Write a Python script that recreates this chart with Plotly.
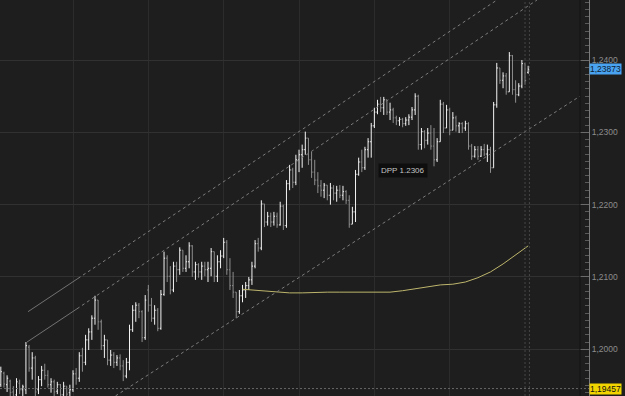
import plotly.graph_objects as go

# ---- bar data (EUR/USD style hourly bars) ----
bar_open = [1.1951,1.1967,1.1951,1.1956,1.1941,1.1937,1.1953,1.1944,1.1944,1.2003,
1.1974,1.1988,1.1944,1.1958,1.1971,1.1964,1.1951,1.1955,1.1942,1.1951,
1.1937,1.1949,1.1940,1.1944,1.1966,1.1960,1.1991,1.1982,1.2013,1.2024,
1.2043,1.2068,1.2038,1.2005,1.2013,1.1985,1.1992,1.1982,1.1988,1.1977,
1.1963,1.1982,1.2027,1.2054,1.2061,1.2052,1.2016,1.2082,1.2061,1.2043,
1.2054,1.2029,1.2076,1.2126,1.2101,1.2082,1.2115,1.2110,1.2137,1.2112,
1.2121,1.2143,1.2107,1.2117,1.2107,1.2115,1.2110,1.2112,1.2135,1.2101,
1.2121,1.2129,1.2148,1.2110,1.2088,1.2079,1.2052,1.2074,1.2082,1.2088,
1.2096,1.2115,1.2146,1.2140,1.2201,1.2176,1.2184,1.2176,1.2184,1.2172,
1.2198,1.2171,1.2229,1.2248,1.2231,1.2262,1.2269,1.2276,1.2292,1.2262,
1.2245,1.2234,1.2226,1.2220,1.2227,1.2213,1.2223,1.2216,1.2220,1.2213,
1.2218,1.2206,1.2173,1.2190,1.2242,1.2259,1.2251,1.2276,1.2287,1.2309,
1.2328,1.2339,1.2334,1.2345,1.2328,1.2331,1.2320,1.2316,1.2318,1.2312,
1.2317,1.2321,1.2331,1.2350,1.2283,1.2301,1.2289,1.2299,1.2281,1.2262,
1.2287,1.2339,1.2306,1.2331,1.2303,1.2320,1.2309,1.2312,1.2306,1.2312,
1.2281,1.2267,1.2276,1.2267,1.2276,1.2270,1.2276,1.2251,1.2338,1.2389,
1.2372,1.2378,1.2356,1.2406,1.2359,1.2352,1.2364,1.2395,1.2383]

bar_high = [1.1976,1.1969,1.1964,1.1958,1.1949,1.1960,1.1958,1.1951,1.2010,1.2006,
1.1996,1.1991,1.1963,1.1977,1.1980,1.1971,1.1960,1.1958,1.1955,1.1952,
1.1955,1.1949,1.1951,1.1971,1.1974,1.1996,1.2002,1.2020,1.2029,1.2047,
1.2074,1.2068,1.2041,1.2020,1.2013,1.1999,1.1996,1.1992,1.1993,1.1985,
1.1988,1.2034,1.2061,1.2065,1.2064,1.2054,1.2075,1.2089,1.2071,1.2061,
1.2057,1.2082,1.2135,1.2130,1.2115,1.2121,1.2121,1.2141,1.2137,1.2130,
1.2148,1.2144,1.2121,1.2119,1.2121,1.2121,1.2121,1.2140,1.2135,1.2130,
1.2137,1.2154,1.2151,1.2126,1.2107,1.2079,1.2082,1.2089,1.2093,1.2100,
1.2121,1.2151,1.2154,1.2206,1.2201,1.2190,1.2189,1.2190,1.2189,1.2204,
1.2200,1.2234,1.2255,1.2251,1.2269,1.2276,1.2283,1.2301,1.2292,1.2273,
1.2262,1.2245,1.2234,1.2230,1.2227,1.2230,1.2227,1.2226,1.2227,1.2226,
1.2220,1.2213,1.2197,1.2248,1.2265,1.2276,1.2280,1.2292,1.2313,1.2334,
1.2345,1.2349,1.2349,1.2345,1.2341,1.2334,1.2323,1.2321,1.2320,1.2321,
1.2325,1.2335,1.2354,1.2352,1.2306,1.2303,1.2306,1.2310,1.2306,1.2292,
1.2345,1.2342,1.2338,1.2334,1.2328,1.2323,1.2314,1.2314,1.2316,1.2314,
1.2284,1.2281,1.2281,1.2281,1.2284,1.2283,1.2280,1.2342,1.2396,1.2389,
1.2383,1.2382,1.2411,1.2407,1.2372,1.2368,1.2400,1.2396,1.2392]

bar_low = [1.1948,1.1947,1.1941,1.1935,1.1930,1.1935,1.1938,1.1933,1.1938,1.1969,
1.1958,1.1935,1.1938,1.1949,1.1958,1.1947,1.1940,1.1935,1.1938,1.1933,
1.1935,1.1933,1.1935,1.1941,1.1951,1.1955,1.1969,1.1978,1.1999,1.2013,
1.2034,1.2027,1.1999,1.1988,1.1978,1.1977,1.1974,1.1977,1.1971,1.1956,
1.1960,1.1971,1.2024,1.2038,1.2043,1.2010,1.2013,1.2052,1.2038,1.2034,
1.2025,1.2027,1.2074,1.2093,1.2076,1.2079,1.2093,1.2103,1.2107,1.2107,
1.2112,1.2100,1.2096,1.2099,1.2096,1.2101,1.2093,1.2101,1.2093,1.2093,
1.2112,1.2126,1.2103,1.2082,1.2071,1.2043,1.2049,1.2065,1.2071,1.2082,
1.2089,1.2112,1.2135,1.2137,1.2169,1.2171,1.2169,1.2171,1.2168,1.2171,
1.2165,1.2168,1.2220,1.2223,1.2227,1.2245,1.2251,1.2269,1.2255,1.2237,
1.2227,1.2216,1.2211,1.2209,1.2206,1.2200,1.2206,1.2204,1.2209,1.2206,
1.2201,1.2168,1.2173,1.2176,1.2240,1.2245,1.2248,1.2265,1.2265,1.2306,
1.2325,1.2328,1.2324,1.2324,1.2317,1.2313,1.2310,1.2309,1.2307,1.2309,
1.2310,1.2317,1.2324,1.2276,1.2276,1.2278,1.2283,1.2276,1.2253,1.2259,
1.2287,1.2299,1.2306,1.2296,1.2303,1.2301,1.2299,1.2299,1.2302,1.2276,
1.2262,1.2265,1.2262,1.2266,1.2267,1.2259,1.2244,1.2251,1.2334,1.2367,
1.2361,1.2352,1.2356,1.2352,1.2341,1.2350,1.2361,1.2366,1.2381]

bar_close = [1.1969,1.1952,1.1960,1.1940,1.1935,1.1955,1.1944,1.1948,1.2005,1.1974,
1.1988,1.1941,1.1958,1.1971,1.1964,1.1951,1.1955,1.1941,1.1951,1.1937,
1.1949,1.1938,1.1944,1.1966,1.1960,1.1991,1.1982,1.2013,1.2024,1.2043,
1.2068,1.2038,1.2005,1.2013,1.1985,1.1992,1.1982,1.1988,1.1977,1.1963,
1.1982,1.2027,1.2054,1.2061,1.2052,1.2016,1.2068,1.2061,1.2043,1.2054,
1.2029,1.2076,1.2126,1.2101,1.2082,1.2115,1.2110,1.2137,1.2112,1.2121,
1.2143,1.2107,1.2117,1.2107,1.2115,1.2110,1.2112,1.2135,1.2101,1.2121,
1.2129,1.2148,1.2110,1.2088,1.2079,1.2052,1.2074,1.2082,1.2088,1.2096,
1.2115,1.2146,1.2140,1.2201,1.2176,1.2184,1.2176,1.2184,1.2172,1.2198,
1.2171,1.2229,1.2248,1.2231,1.2262,1.2269,1.2276,1.2292,1.2262,1.2245,
1.2234,1.2226,1.2220,1.2227,1.2213,1.2223,1.2216,1.2220,1.2213,1.2218,
1.2206,1.2173,1.2190,1.2242,1.2259,1.2251,1.2276,1.2287,1.2309,1.2328,
1.2339,1.2334,1.2345,1.2328,1.2331,1.2320,1.2316,1.2318,1.2312,1.2317,
1.2321,1.2331,1.2350,1.2283,1.2301,1.2289,1.2299,1.2281,1.2262,1.2287,
1.2339,1.2306,1.2331,1.2303,1.2320,1.2309,1.2312,1.2306,1.2312,1.2281,
1.2267,1.2276,1.2267,1.2276,1.2270,1.2276,1.2251,1.2338,1.2389,1.2372,
1.2378,1.2356,1.2406,1.2359,1.2352,1.2364,1.2395,1.2372,1.23873]

bar_index = list(range(len(bar_close)))

# moving average (read at sampled bars)
ma_index = [77,80,84,88,92,96,100,104,108,112,116,120,124,128,132,136,140,144,148,152,156,160,164,168]
ma_value = [1.2083,1.2082,1.2080,1.2079,1.2078,1.2078,1.2079,1.2079,1.2079,1.2079,1.2078,1.2078,
            1.2079,1.2081,1.2084,1.2087,1.2089,1.2090,1.2093,1.2099,1.2107,1.2118,1.2130,1.2143]

# channel anchors (bar index, price)
top_line = [(8.66, 1.2052), (24.59, 1.2098), (158.07, 1.2483)]
mid_line = [(8.34, 1.2010), (24.27, 1.2056), (170.81, 1.2483)]
low_line = [(36.54, 1.19355), (184.51, 1.2350)]

day_grid = [23, 47, 71, 95, 119, 143]
last_price = 1.23873
marker_price = 1.19457
dpp_label = "DPP 1.2306"

BG = "#1e1e1e"
GRID = "#2c2c2c"
AXIS = "#8c8c8c"
FONT = "Liberation Sans"

fig = go.Figure()
fig.add_trace(go.Ohlc(
    x=bar_index, open=bar_open, high=bar_high, low=bar_low, close=bar_close,
    increasing=dict(line=dict(color="#f4f4f4", width=1)),
    decreasing=dict(line=dict(color="#8e8e8e", width=1)),
    tickwidth=0.35, hoverinfo="skip"))
fig.add_trace(go.Scatter(x=ma_index, y=ma_value, mode="lines",
                         line=dict(color="#bdb56c", width=1), hoverinfo="skip"))

shapes = []
def seg(p0, p1, dash, color="#7c7c7c"):
    shapes.append(dict(type="line", xref="x", yref="y", x0=p0[0], y0=p0[1], x1=p1[0], y1=p1[1],
                       line=dict(color=color, width=1, dash=dash)))
seg(top_line[0], top_line[1], "solid", "#727272")
seg(top_line[1], top_line[2], "3px,3px")
seg(mid_line[0], mid_line[1], "solid", "#727272")
seg(mid_line[1], mid_line[2], "3px,3px")
seg(low_line[0], low_line[1], "3px,3px")
# marker price dashed line
shapes.append(dict(type="line", xref="paper", yref="y", x0=0, x1=1, y0=marker_price, y1=marker_price,
                   line=dict(color="#666666", width=1, dash="2px,2px")))
# current-bar dotted separators
for xv in (167.0, 168.4):
    shapes.append(dict(type="line", xref="x", yref="paper", x0=xv, x1=xv, y0=0, y1=1,
                       line=dict(color="#474747", width=1, dash="2px,2px")))
# dark border line before the price scale
shapes.append(dict(type="line", xref="paper", yref="paper", x0=580/589, x1=580/589, y0=0, y1=1,
                   line=dict(color="#121212", width=1)))

fig.update_layout(
    width=625, height=396,
    margin=dict(l=0, r=36, t=0, b=0),
    paper_bgcolor=BG, plot_bgcolor=BG,
    showlegend=False,
    separators=",.",
    font=dict(family=FONT, size=9, color=AXIS),
    shapes=shapes,
    xaxis=dict(range=[-0.26, 187.38], rangeslider=dict(visible=False),
               showticklabels=False, ticks="", tickvals=day_grid,
               showgrid=True, gridcolor=GRID, gridwidth=1, zeroline=False, showline=False),
    yaxis=dict(range=[1.19354, 1.24830], side="right", dtick=0.01, tick0=1.2,
               tickformat=".4f", ticks="inside", ticklen=9, tickcolor="#6a6a6a",
               showline=True, linecolor="#7a7a7a", linewidth=1,
               showgrid=True, gridcolor="#313131", zeroline=False,
               tickfont=dict(family=FONT, size=8.5, color=AXIS),
               minor=dict(dtick=0.001, ticks="inside", ticklen=4, tickcolor="#5a5a5a", showgrid=False)),
    annotations=[
        dict(x=1, xref="paper", y=last_price, yref="y", text="1,23873", showarrow=False,
             xanchor="left", yanchor="middle", bgcolor="#4aa3f0", borderpad=0,
             font=dict(family=FONT, size=8.5, color="#0c1c30")),
        dict(x=1, xref="paper", y=marker_price, yref="y", text="1,19457", showarrow=False,
             xanchor="left", yanchor="middle", bgcolor="#f2d400", borderpad=0,
             font=dict(family=FONT, size=8.5, color="#111111")),
        dict(x=128.1, xref="x", y=1.2247, yref="y", text=dpp_label, showarrow=False,
             xanchor="center", yanchor="middle", bgcolor="#0e0e0e", borderpad=2,
             font=dict(family=FONT, size=8, color="#c4c4c4")),
    ],
)

fig.write_html("out.html")
